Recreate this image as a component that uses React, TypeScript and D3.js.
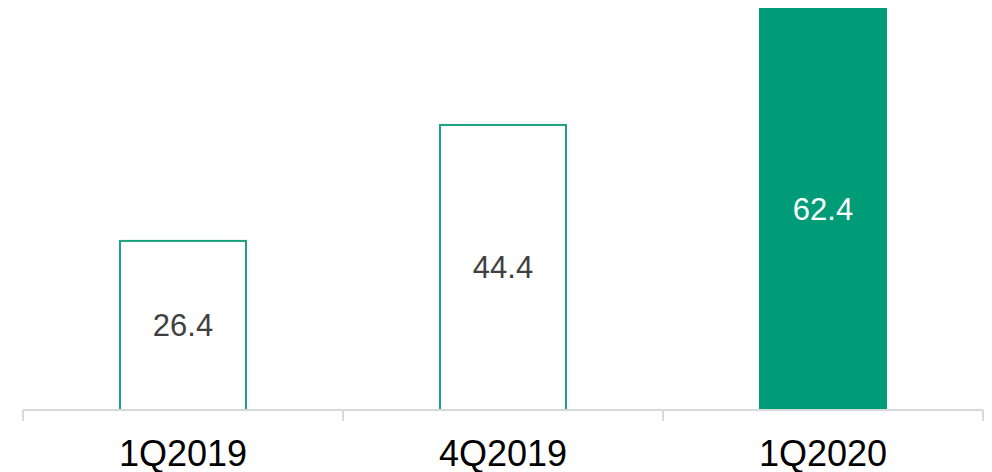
import React from "react";
import * as d3 from "d3";

const categories = ["1Q2019", "4Q2019", "1Q2020"];
const values = [26.4, 44.4, 62.4];
const filled = [false, false, true];

const W = 992;
const H = 472;
const left = 23;
const right = 983;
const baseY = 410;
const topY = 8;

export default function App() {
  const x = d3
    .scaleBand<string>()
    .domain(categories)
    .range([left, right])
    .paddingInner(0.6)
    .paddingOuter(0.3);
  const y = d3.scaleLinear().domain([0, 62.4]).range([baseY, topY]);
  const step = x.step();
  const ticks = d3.range(categories.length + 1).map((i) => left + i * step);
  const green = "#009B77";
  return (
    <svg
      width={W}
      height={H}
      style={{ position: "absolute", left: 0, top: 0, background: "#fff" }}
      fontFamily="'Liberation Sans', Arial, sans-serif"
    >
      {categories.map((c, i) => {
        const x0 = x(c)!;
        const bw = x.bandwidth();
        const yv = y(values[i]);
        return (
          <g key={c}>
            {filled[i] ? (
              <rect x={x0} y={yv} width={bw} height={baseY - yv} fill={green} />
            ) : (
              <rect
                x={x0 + 1}
                y={yv + 1}
                width={bw - 2}
                height={baseY - yv - 1}
                fill="#fff"
                stroke="#1BA37F"
                strokeWidth={2}
              />
            )}
            <text
              x={x0 + bw / 2}
              y={(yv + baseY) / 2 + 11}
              textAnchor="middle"
              fontSize={31}
              fill={filled[i] ? "#fff" : "#404040"}
            >
              {values[i].toFixed(1)}
            </text>
            <text x={x0 + bw / 2} y={466} textAnchor="middle" fontSize={36} fill="#000">
              {c}
            </text>
          </g>
        );
      })}
      <line x1={left} x2={right} y1={baseY} y2={baseY} stroke="#d9d9d9" strokeWidth={2} />
      {ticks.map((t, i) => (
        <line key={i} x1={t} x2={t} y1={baseY} y2={421} stroke="#d9d9d9" strokeWidth={2} />
      ))}
    </svg>
  );
}
